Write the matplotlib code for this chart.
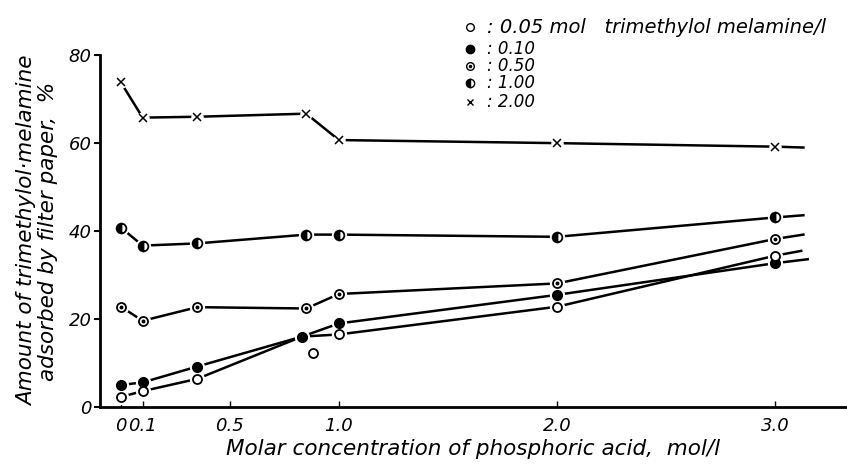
import matplotlib
matplotlib.use("Agg")
import matplotlib.pyplot as plt
from matplotlib.lines import Line2D

# phosphoric acid concentration, mol/l (last x is where the drawn curve runs on past 3.0)
x_005 = [0, 0.1, 0.35, 0.83, 1.0, 2.0, 3.0, 3.12]
y_005 = [2.3, 3.6, 6.4, 16.0, 16.5, 22.8, 34.4, 35.5]
mark_005 = [0, 1, 2, 4, 5, 6]
stray_x = [0.88]
stray_y = [12.2]

x_010 = [0, 0.1, 0.35, 0.83, 1.0, 2.0, 3.0, 3.15]
y_010 = [5.0, 5.6, 9.2, 16.0, 19.0, 25.5, 32.7, 33.6]

x_050 = [0, 0.1, 0.35, 0.85, 1.0, 2.0, 3.0, 3.13]
y_050 = [22.8, 19.6, 22.7, 22.4, 25.7, 28.1, 38.2, 39.2]

x_100 = [0, 0.1, 0.35, 0.85, 1.0, 2.0, 3.0, 3.13]
y_100 = [40.8, 36.7, 37.2, 39.2, 39.2, 38.7, 43.1, 43.6]

x_200 = [0, 0.1, 0.35, 0.85, 1.0, 2.0, 3.0, 3.13]
y_200 = [73.8, 65.8, 66.0, 66.7, 60.7, 60.0, 59.2, 59.0]

xticks = [0, 0.1, 0.5, 1.0, 2.0, 3.0]
xticklabels = ["0", "0.1", "0.5", "1.0", "2.0", "3.0"]
yticks = [0, 20, 40, 60, 80]

legend_labels = [": 0.05 mol   trimethylol melamine/l", ": 0.10", ": 0.50", ": 1.00", ": 2.00"]

plt.rcParams["font.family"] = "DejaVu Sans"
plt.rcParams["font.style"] = "italic"

fig = plt.figure(figsize=(8.47, 4.66), dpi=100)
ax = fig.add_axes([0.118, 0.1266, 0.882, 0.755])

def serie(xs, ys, kind, marks=None):
    if marks is None:
        marks = list(range(len(xs) - 1))
    mx = [xs[i] for i in marks]
    my = [ys[i] for i in marks]
    ax.plot(xs, ys, color="black", lw=1.8, zorder=2, clip_on=False)
    # white gap round each point, like the hand drawn original
    ax.plot(mx, my, "o", ms=10 if kind != "x" else 8, color="white", zorder=3, clip_on=False)
    if kind == "open":
        ax.plot(mx, my, "o", ms=6.5, mfc="white", mec="black", mew=1.3, zorder=4, clip_on=False)
    elif kind == "filled":
        ax.plot(mx, my, "o", ms=7, color="black", zorder=4, clip_on=False)
    elif kind == "dot":
        ax.plot(mx, my, "o", ms=6.5, mfc="white", mec="black", mew=1.3, zorder=4, clip_on=False)
        ax.plot(mx, my, "o", ms=1.8, color="black", zorder=5, clip_on=False)
    elif kind == "half":
        ax.plot(mx, my, "o", ms=7, fillstyle="left", mfc="black", mfcalt="white",
                mec="black", mew=1.3, zorder=4, clip_on=False)
    elif kind == "x":
        ax.plot(mx, my, "x", ms=5.5, color="black", mew=1.1, zorder=4, clip_on=False)

serie(x_200, y_200, "x")
serie(x_100, y_100, "half")
serie(x_050, y_050, "dot")
serie(x_010, y_010, "filled")
serie(x_005, y_005, "open", mark_005)
ax.plot(stray_x, stray_y, "o", ms=6.5, mfc="white", mec="black", mew=1.3, zorder=4)

ax.set_xlim(-0.096, 3.33)
ax.set_ylim(0, 80)
ax.set_xticks(xticks)
ax.set_xticklabels(xticklabels)
ax.set_yticks(yticks)
for s in ["top", "right"]:
    ax.spines[s].set_visible(False)
for s in ["left", "bottom"]:
    ax.spines[s].set_linewidth(2)
ax.tick_params(axis="x", direction="in", length=4, width=1, labelsize=13, pad=7)
ax.tick_params(axis="y", direction="out", length=4, width=1.5, labelsize=13, pad=2)

ax.set_xlabel("Molar concentration of phosphoric acid,  mol/l", fontsize=15.5, labelpad=3)
ax.set_ylabel("Amount of trimethylol·melamine\nadsorbed by filter paper,  %", fontsize=15.5,
              linespacing=1.0, labelpad=8)

# legend block, top right
kinds = ["open", "filled", "dot", "half", "x"]
ly = [0.942, 0.895, 0.858, 0.821, 0.782]
for kind, lab, yy in zip(kinds, legend_labels, ly):
    kw = dict(transform=fig.transFigure, ls="none", color="black")
    if kind == "open":
        fig.add_artist(Line2D([0.555], [yy], marker="o", ms=5.5, mfc="white", mec="black", **kw))
    elif kind == "filled":
        fig.add_artist(Line2D([0.555], [yy], marker="o", ms=6, **kw))
    elif kind == "dot":
        fig.add_artist(Line2D([0.555], [yy], marker="o", ms=5.5, mfc="white", mec="black", **kw))
        fig.add_artist(Line2D([0.555], [yy], marker="o", ms=1.5, **kw))
    elif kind == "half":
        fig.add_artist(Line2D([0.555], [yy], marker="o", ms=6, fillstyle="left",
                              mfc="black", mfcalt="white", mec="black", **kw))
    else:
        fig.add_artist(Line2D([0.555], [yy], marker="x", ms=4.5, **kw))
    fig.text(0.575, yy, lab, fontsize=14 if kind == "open" else 12, va="center", ha="left")

fig.savefig("out.png", dpi=100)
